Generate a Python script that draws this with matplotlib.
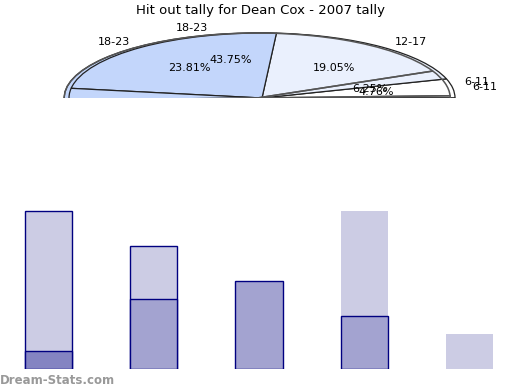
import numpy as np
import matplotlib
matplotlib.use("Agg")
import matplotlib.pyplot as plt

# pie data (two overlapping tallies)
pie_a_labels = ['6-11', '18-23', '0-5']
pie_a_counts = [1, 7, 8]
pie_b_labels = ['6-11', '12-17', '18-23', '0-5']
pie_b_counts = [1, 4, 5, 11]

# bar data
bar_x = [0, 1, 2, 3, 4]
light_edged = [9, 7, 0, 0, 0]
light_plain = [0, 0, 0, 9, 2]
dark = [1, 4, 5, 3, 0]

farge = {'6-11': '#ffffff', '12-17': '#eaf0fd', '18-23': '#c3d6fb', '0-5': '#c3d6fb'}

fig = plt.figure(figsize=(5.2, 3.9), dpi=100)
fig.text(0.5, 0.974, "Hit out tally for Dean Cox - 2007 tally", ha='center', va='center', fontsize=9.5)

# pie axes, squashed so the pie looks like an ellipse and cut at the middle
ax1 = fig.add_axes([0, (390 - 98) / 390, 1, 78 / 390])

wa, ta, pa = ax1.pie(pie_a_counts, labels=pie_a_labels, autopct='%.2f%%', startangle=2,
                     center=(-0.025, 0), colors=[farge[l] for l in pie_a_labels],
                     wedgeprops=dict(edgecolor='#222222', linewidth=0.9),
                     textprops=dict(fontsize=8), frame=True)
wb, tb, pb = ax1.pie(pie_b_counts, labels=pie_b_labels, autopct='%.2f%%', startangle=0,
                     colors=[farge[l] for l in pie_b_labels],
                     wedgeprops=dict(edgecolor='#222222', linewidth=0.9),
                     textprops=dict(fontsize=8), frame=True)
# pie A edges again on top so both outlines show
for w in wa:
    w2 = matplotlib.patches.Wedge(w.center, w.r, w.theta1, w.theta2, fill=False,
                                  edgecolor='#555555', linewidth=1.1)
    ax1.add_patch(w2)

for p in list(wa) + list(wb) + ax1.patches:
    p.set_clip_on(True)
# texts for the slices below the cut are not shown
for t in ta + tb + pa + pb:
    if t.get_position()[1] < 0:
        t.set_visible(False)

ax1.set_xlim(-262 / 193, (520 - 262) / 193)
ax1.set_ylim(0, 78 / 65)
ax1.set_aspect('auto')
ax1.axis('off')

# bar axes
ax2 = fig.add_axes([0, (390 - 369) / 390, 1, 169 / 390])
bw = 0.45
dark_col = ['#8484c2', '#a3a3d0', '#a3a3d0', '#a3a3d0', '#a3a3d0']
for i in bar_x:
    if light_plain[i] > 0:
        ax2.bar(i, light_plain[i], width=bw, color='#cccce4', edgecolor='none')
    if light_edged[i] > 0:
        ax2.bar(i, light_edged[i], width=bw, color='#cccce4', edgecolor='#000080', linewidth=1)
    if dark[i] > 0:
        ax2.bar(i, dark[i], width=bw, color=dark_col[i], edgecolor='#000080', linewidth=1)
ax2.set_xlim(-48.5 / 105.3, (520 - 48.5) / 105.3)
ax2.set_ylim(0, 169 / 17.6)
ax2.axis('off')

fig.text(0.0, 0.025, "Dream-Stats.com", fontsize=8.5, color='#999999', fontweight='bold',
         ha='left', va='center')

fig.savefig("out.png", dpi=100)
